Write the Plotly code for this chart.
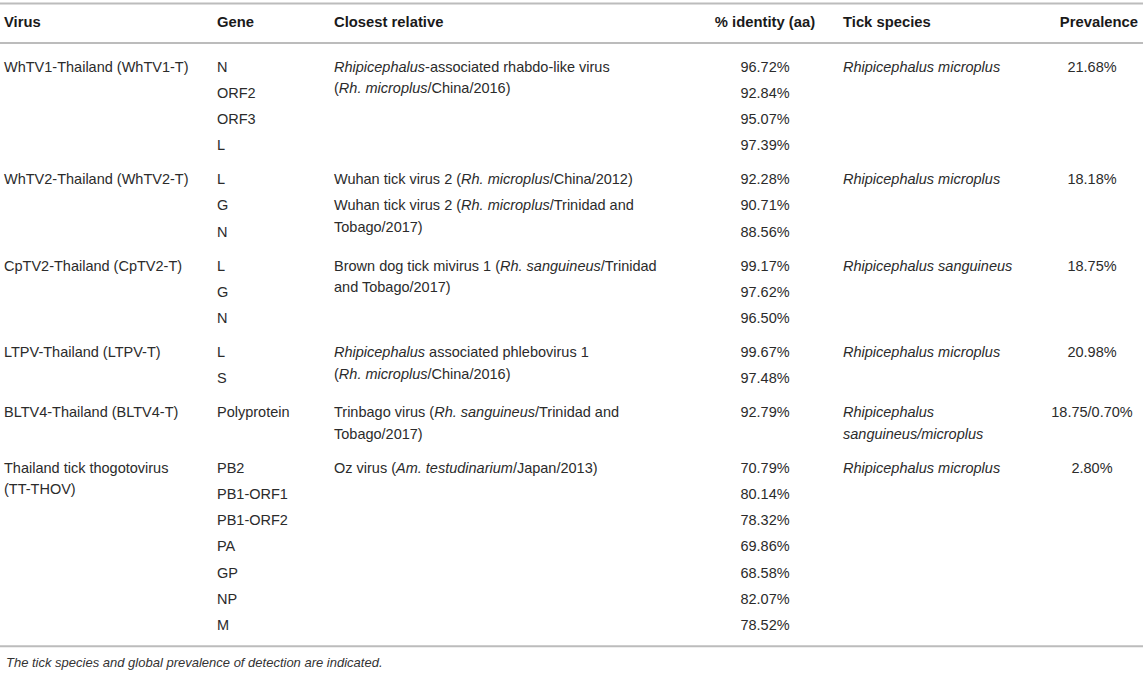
import plotly.graph_objects as go

# table content, one entry per virus group
viruses = [
    ["WhTV1-Thailand (WhTV1-T)"],
    ["WhTV2-Thailand (WhTV2-T)"],
    ["CpTV2-Thailand (CpTV2-T)"],
    ["LTPV-Thailand (LTPV-T)"],
    ["BLTV4-Thailand (BLTV4-T)"],
    ["Thailand tick thogotovirus", "(TT-THOV)"],
]
genes = [
    ["N", "ORF2", "ORF3", "L"],
    ["L", "G", "N"],
    ["L", "G", "N"],
    ["L", "S"],
    ["Polyprotein"],
    ["PB2", "PB1-ORF1", "PB1-ORF2", "PA", "GP", "NP", "M"],
]
identity = [
    [96.72, 92.84, 95.07, 97.39],
    [92.28, 90.71, 88.56],
    [99.17, 97.62, 96.50],
    [99.67, 97.48],
    [92.79],
    [70.79, 80.14, 78.32, 69.86, 68.58, 82.07, 78.52],
]
# closest relative, per gene row (wrapped lines)
relatives = [
    [["<i>Rhipicephalus</i>-associated rhabdo-like virus", "(<i>Rh. microplus</i>/China/2016)"]],
    [["Wuhan tick virus 2 (<i>Rh. microplus</i>/China/2012)"],
     ["Wuhan tick virus 2 (<i>Rh. microplus</i>/Trinidad and", "Tobago/2017)"]],
    [["Brown dog tick mivirus 1 (<i>Rh. sanguineus</i>/Trinidad", "and Tobago/2017)"]],
    [["<i>Rhipicephalus</i> associated phlebovirus 1", "(<i>Rh. microplus</i>/China/2016)"]],
    [["Trinbago virus (<i>Rh. sanguineus</i>/Trinidad and", "Tobago/2017)"]],
    [["Oz virus (<i>Am. testudinarium</i>/Japan/2013)"]],
]
tick_species = [
    ["<i>Rhipicephalus microplus</i>"],
    ["<i>Rhipicephalus microplus</i>"],
    ["<i>Rhipicephalus sanguineus</i>"],
    ["<i>Rhipicephalus microplus</i>"],
    ["<i>Rhipicephalus</i>", "<i>sanguineus/microplus</i>"],
    ["<i>Rhipicephalus microplus</i>"],
]
prevalence = ["21.68%", "18.18%", "18.75%", "20.98%", "18.75/0.70%", "2.80%"]

headers = ["Virus", "Gene", "Closest relative", "% identity (aa)", "Tick species", "Prevalence"]
caption = "The tick species and global prevalence of detection are indicated."

# layout (pixels)
W, H = 1143, 673
ROW_H = 26.2
WRAP_H = 21.5
GROUP_GAP = 7.8
FIRST_ROW = 68
HEADER_Y = 23
TOP_RULE = 3.5
HEADER_RULE = 43

FONT = "Liberation Sans, Arial, sans-serif"
TXT = "#2b2b2b"
RULE = "#bcbcbc"

keys = ["virus", "gene", "relative", "identity", "tick", "prev"]
col_x = {"virus": 4, "gene": 217, "relative": 334, "identity": 765, "tick": 843, "prev": 1092}
col_pos = {"virus": "middle right", "gene": "middle right", "relative": "middle right",
           "identity": "middle center", "tick": "middle right", "prev": "middle center"}
cells = {k: {"y": [], "text": []} for k in keys}


def put(key, y, lines):
    for j, line in enumerate(lines):
        cells[key]["y"].append(y + j * WRAP_H)
        cells[key]["text"].append(line)
    return (len(lines) - 1) * WRAP_H + ROW_H


y0 = FIRST_ROW
for g in range(len(viruses)):
    h = len(genes[g]) * ROW_H
    h = max(h, put("virus", y0, viruses[g]))
    for r, gene in enumerate(genes[g]):
        put("gene", y0 + r * ROW_H, [gene])
        put("identity", y0 + r * ROW_H, ["%.2f%%" % identity[g][r]])
    for r, rel in enumerate(relatives[g]):
        h = max(h, r * ROW_H + put("relative", y0 + r * ROW_H, rel))
    h = max(h, put("tick", y0, tick_species[g]))
    put("prev", y0, [prevalence[g]])
    last_row = y0 + h - ROW_H
    y0 += h + GROUP_GAP

bottom_rule = last_row + 20

fig = go.Figure()

for k in keys:
    fig.add_trace(go.Scatter(
        x=[col_x[k]] * len(cells[k]["y"]), y=cells[k]["y"], text=cells[k]["text"],
        mode="text", textposition=col_pos[k], hoverinfo="skip",
        textfont=dict(family=FONT, size=14.5, color=TXT),
    ))

# header row
head_x = [4, 217, 334, 765, 843, 1138]
head_pos = ["middle right", "middle right", "middle right", "middle center", "middle right", "middle left"]
fig.add_trace(go.Scatter(
    x=head_x, y=[HEADER_Y] * len(headers), text=["<b>%s</b>" % t for t in headers],
    mode="text", textposition=head_pos, hoverinfo="skip",
    textfont=dict(family=FONT, size=14.8, color="#1a1a1a"),
))

for yy in [TOP_RULE, HEADER_RULE, bottom_rule]:
    fig.add_shape(type="line", x0=0, x1=W, y0=yy, y1=yy, xref="x", yref="y",
                  line=dict(color=RULE, width=2))

fig.add_annotation(x=4, y=bottom_rule + 16, xref="x", yref="y", text="<i>%s</i>" % caption,
                   showarrow=False, xanchor="left", yanchor="middle",
                   font=dict(family=FONT, size=13, color="#333333"))

fig.update_xaxes(range=[0, W], visible=False, fixedrange=True)
fig.update_yaxes(range=[H, 0], visible=False, fixedrange=True)
fig.update_layout(width=W, height=H, margin=dict(l=0, r=0, t=0, b=0),
                  paper_bgcolor="white", plot_bgcolor="white", showlegend=False)

# drop the browser's default page margin so the figure fills the window
fig.write_html("out.html", config={"displayModeBar": False},
               post_script="document.body.style.margin='0';")
